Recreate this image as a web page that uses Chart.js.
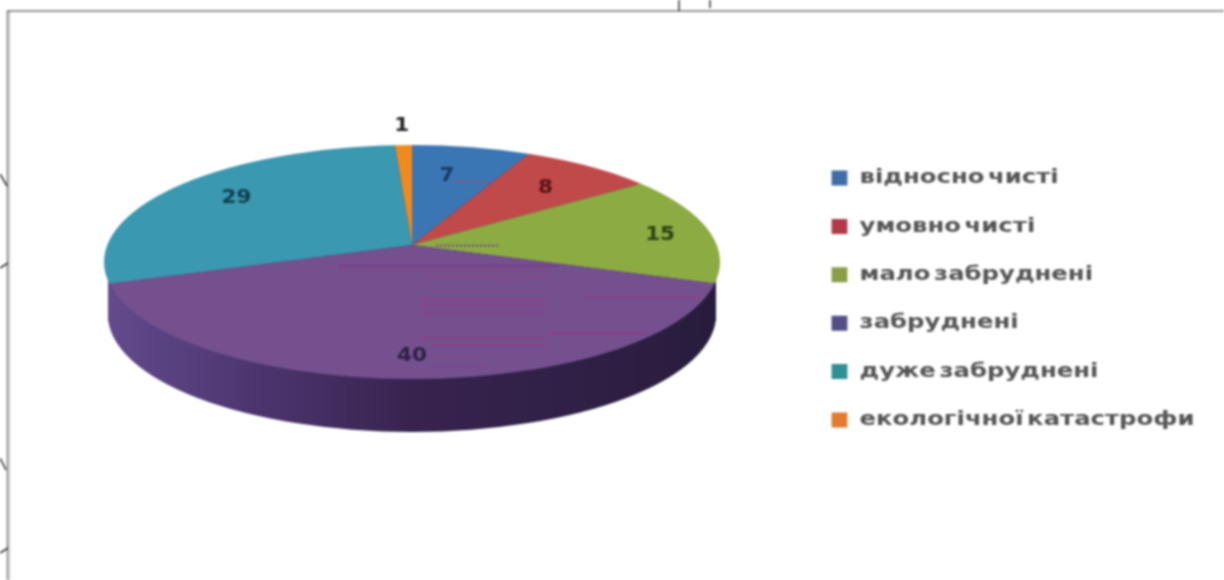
<!DOCTYPE html>
<html>
<head>
<meta charset="utf-8">
<script src="https://cdn.jsdelivr.net/npm/chart.js@4"></script>
<style>
html,body{margin:0;padding:0;background:#fff;overflow:hidden}
#wrap{width:1224px;height:580px}
canvas{display:block;filter:blur(0.8px)}
</style>
</head>
<body>
<div id="wrap"><canvas id="c" width="1224" height="580"></canvas></div>
<script>
const categories = ["відносно чисті","умовно чисті","мало забруднені","забруднені","дуже забруднені","екологічної катастрофи"];
const values = [7,8,15,40,29,1];
const sliceColors = ["#3b76b4","#c04a4a","#8cab43","#74508f","#3a98b0","#ee8a20"];
const legendColors = ["#3f6ea5","#b23a48","#8a9e45","#544f85","#2e9093","#e07b30"];
const labelRadii  = [0.72,0.77,0.92,0.91,0.81,1.21];
const labelNudges = [-2.3,0,1.5,0,3,0];
const labelColors = ["#173a66","#5a1216","#2f4212","#2e2145","#10404f","#222222"];
const labelDrop = 2;

// 3D look of the pie
const pie = {cx:412, apexY:245, rimY:262, rimRx:308, rimRy:117, depth:53, sideInset:4,
  upper:{sx:272, sy:100}, lower:{sx:306, sy:120}};
const sideStops = [[110,"#624a8c"],[250,"#4d3670"],[412,"#38234f"],[600,"#2e2045"],[715,"#281c3c"]];

// Frame and stray marks of the scan
const frameColor = "#777777";
const dottedRows = [
 [436,499,245.5,"#6a3f9a"],[453,490,182,"#a04a70"],[340,560,266,"#7a2f80"],[340,545,270,"#8a3f80"],[423,545,277,"#9a4a80"],
 [420,545,299.5,"#a8307a"],[420,545,305,"#a8307a"],[420,545,312.5,"#a8307a"],[585,698,297,"#a8307a"],
 [547,645,333,"#a8307a"],[420,545,338,"#a8307a"],[432,545,345,"#a8307a"],[430,485,367,"#8a3a90"]
];
const strayMarks = [[0,174,7,186],[0,268,8,263],[0,458,6,470],[0,553,8,548],[679,0,679,11],[710,0,710,8]];

const legendScaleX = 1.217, legendLeft = 797;

function drawSlices(ctx, meta, offset, useSide){
  const grow = 1.5;
  const rx = useSide ? pie.rimRx-pie.sideInset : pie.rimRx;
  [[pie.upper,-1],[pie.lower,1]].forEach(([part,dir])=>{
    ctx.save();
    ctx.beginPath();
    ctx.ellipse(pie.cx,pie.rimY+offset,rx,pie.rimRy,0,0,Math.PI*2);
    ctx.clip();
    ctx.beginPath();
    const top = pie.apexY+offset;
    if(dir<0) ctx.rect(0,top-400,1224,400); else ctx.rect(0,top,1224,400);
    ctx.clip();
    meta.data.forEach((el,i)=>{
      const R = el.outerRadius;
      const s = {x:part.sx*grow/R, y:part.sy*grow/R};
      ctx.save();
      ctx.translate(pie.cx,top);
      ctx.scale(s.x,s.y);
      ctx.translate(-el.x,-el.y);
      const saved = el.options;
      let fill = sliceColors[i];
      if(useSide){
        const toLocal = X => el.x+(X-pie.cx)/s.x;
        const a = sideStops[0][0], b = sideStops[sideStops.length-1][0];
        const g = ctx.createLinearGradient(toLocal(a),0,toLocal(b),0);
        sideStops.forEach(st=>g.addColorStop((st[0]-a)/(b-a),st[1]));
        fill = g;
      }
      el.options = Object.assign({},saved,{backgroundColor:fill,borderWidth:0});
      el.draw(ctx);
      el.options = saved;
      ctx.restore();
    });
    ctx.restore();
  });
}

const pie3d = {
  id:'pie3d',
  beforeDraw(chart){
    const ctx = chart.ctx;
    ctx.save();
    ctx.fillStyle = '#fff';
    ctx.fillRect(0,0,chart.width,chart.height);
    ctx.restore();
    const lg = chart.legend;
    if(lg && !lg._stretched){
      lg._stretched = true;
      const orig = lg.draw.bind(lg);
      lg.draw = function(a){
        ctx.save();
        ctx.translate(legendLeft-lg.left*legendScaleX,0);
        ctx.scale(legendScaleX,1);
        ctx.wordSpacing = '-4px';
        orig(a);
        ctx.restore();
      };
    }
  },
  beforeDatasetDraw(chart,args){
    const ctx = chart.ctx, meta = args.meta;
    for(let d=pie.depth;d>0;d-=1) drawSlices(ctx,meta,d,true);
    drawSlices(ctx,meta,0,false);

    ctx.save();
    ctx.textAlign='center'; ctx.textBaseline='middle';
    meta.data.forEach((el,i)=>{
      const mid = (el.startAngle+el.endAngle)/2 + labelNudges[i]*Math.PI/180;
      const ux = Math.cos(mid), uy = Math.sin(mid);
      const part = uy<0 ? pie.upper : pie.lower;
      const x = pie.cx+ux*part.sx*labelRadii[i];
      const y = pie.apexY+uy*part.sy*labelRadii[i]+labelDrop;
      ctx.save();
      ctx.translate(x,y); ctx.scale(1.13,1);
      ctx.font='bold 19px "DejaVu Sans"';
      ctx.fillStyle=labelColors[i];
      ctx.fillText(String(values[i]),0,0);
      ctx.restore();
    });
    dottedRows.forEach(r=>{
      ctx.strokeStyle=r[3]; ctx.lineWidth=1.8;
      ctx.setLineDash([2,2]);
      ctx.beginPath(); ctx.moveTo(r[0],r[2]); ctx.lineTo(r[1],r[2]); ctx.stroke();
    });
    ctx.setLineDash([]);
    ctx.strokeStyle=frameColor; ctx.lineWidth=1.5;
    ctx.beginPath(); ctx.moveTo(1224,11); ctx.lineTo(7.5,11); ctx.lineTo(7.5,580); ctx.stroke();
    ctx.lineWidth=1.5;
    ctx.setLineDash([1,2]);
    ctx.beginPath(); ctx.moveTo(9.5,12); ctx.lineTo(9.5,580); ctx.stroke();
    ctx.setLineDash([]);
    ctx.strokeStyle='#333';
    strayMarks.forEach(m=>{ctx.beginPath();ctx.moveTo(m[0],m[1]);ctx.lineTo(m[2],m[3]);ctx.stroke();});
    ctx.restore();
    return false;
  }
};

new Chart(document.getElementById('c'),{
  type:'pie',
  data:{labels:categories,datasets:[{data:values,backgroundColor:sliceColors,borderWidth:0}]},
  plugins:[pie3d],
  options:{
    responsive:false,animation:false,
    layout:{padding:{top:18,right:30}},
    plugins:{
      tooltip:{enabled:false},
      legend:{
        position:'right',
        labels:{
          font:{family:'"DejaVu Sans"',size:20,weight:'bold'},
          color:'#555555',
          boxWidth:13,boxHeight:15,padding:28.4,
          generateLabels:()=>categories.map((t,i)=>({text:t,fontColor:'#555555',fillStyle:legendColors[i],strokeStyle:legendColors[i],lineWidth:0,index:i,hidden:false}))
        }
      }
    }
  }
});
</script>
</body>
</html>
